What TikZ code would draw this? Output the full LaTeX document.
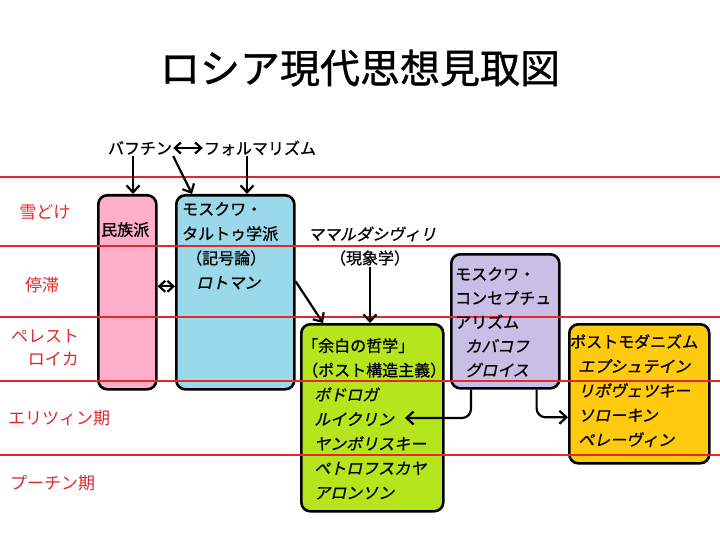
\documentclass[tikz,border=0pt]{standalone}
\usepackage{fontspec}
\setmainfont[FakeBold=0.9]{Noto Sans CJK JP}
\newfontfamily\slfont[FakeSlant=0.22,FakeBold=0.9]{Noto Sans CJK JP}
\newfontfamily\erafont{Noto Sans CJK JP}
\usetikzlibrary{arrows.meta}
\usetikzlibrary{positioning}

\definecolor{eracol}{RGB}{225,40,45}
\definecolor{pinkfill}{RGB}{255,174,201}
\definecolor{bluefill}{RGB}{153,217,234}
\definecolor{greenfill}{RGB}{181,230,29}
\definecolor{purplefill}{RGB}{200,191,231}
\definecolor{orangefill}{RGB}{255,201,14}

\tikzset{
  box/.style={draw, line width=2.6pt, rounded corners=9pt, anchor=north west, inner sep=0pt},
  boxtext/.style={anchor=north west, align=left, inner sep=0pt, font=\fontsize{16}{24.5}\selectfont},
  era/.style={text=eracol, font=\erafont\fontsize{17}{23}\selectfont, inner sep=0pt},
  eraline/.style={eracol, line width=1.1pt},
  arr/.style={-{Straight Barb[length=7pt,width=13pt,line width=2.2pt]}, line width=2.2pt},
  dbl/.style={{Straight Barb[length=6pt,width=11pt,line width=2.2pt]}-{Straight Barb[length=6pt,width=11pt,line width=2.2pt]}, line width=2.2pt}
}

\begin{document}
\begin{tikzpicture}[x=1pt,y=-1pt]
  \fill[white] (0,0) rectangle (720,540);
  \useasboundingbox (0,0) rectangle (720,540);

  % title
  \node[font=\fontsize{40}{44}\selectfont] (title) at (360,68) {ロシア現代思想見取図};

  % boxes
  \node[box, fill=pinkfill, minimum width=58pt, minimum height=194pt] (minzoku) at (97,194) {};
  \node[box, fill=bluefill, minimum width=118pt, minimum height=194pt] (tartu) at (175,194) {};
  \node[box, fill=greenfill, minimum width=142pt, minimum height=187pt] (yohaku) at (300,323) {};
  \node[box, fill=purplefill, minimum width=108pt, minimum height=134pt] (moscon) at (450,253) {};
  \node[box, fill=orangefill, minimum width=140pt, minimum height=139pt] (postmod) at (568,323) {};

  % era lines
  \foreach \y in {177,246,317,381,455}
    \draw[eraline] (0,\y) -- (720,\y);

  % era labels
  \node[era] (e1) at (45,212) {雪どけ};
  \node[era] (e2) at (42,285) {停滞};
  \node[era, align=right] (e3) at (45,348) {ペレスト\\ロイカ};
  \node[era, anchor=west] (e4) at (8,418) {エリツィン期};
  \node[era, anchor=west] (e5) at (10,483) {プーチン期};

  % box texts
  \node[boxtext] (minzokut) at (101,222) {民族派};
  \node[boxtext] (tartut) at (182,202) {モスクワ・\\タルトゥ学派\\\hspace{4pt}（記号論）\\\hspace{14pt}{\slfont ロトマン}};
  \node[boxtext] (yohakut) at (302,338) {「余白の哲学」\\（ポスト構造主義）\\\hspace{12pt}{\slfont ポドロガ}\\\hspace{12pt}{\slfont ルイクリン}\\\hspace{12pt}{\slfont ヤンポリスキー}\\\hspace{12pt}{\slfont ペトロフスカヤ}\\\hspace{12pt}{\slfont アロンソン}};
  \node[boxtext, font=\fontsize{16}{24}\selectfont] (mosconT) at (455,267) {モスクワ・\\コンセプチュ\\アリズム\\\hspace{10pt}{\slfont カバコフ}\\\hspace{10pt}{\slfont グロイス}};
  \node[boxtext] (postmodt) at (570,334) {ポストモダニズム\\\hspace{8pt}{\slfont エプシュテイン}\\\hspace{8pt}{\slfont リポヴェツキー}\\\hspace{8pt}{\slfont ソローキン}\\\hspace{8pt}{\slfont ペレーヴィン}};

  % top sources
  \node[font=\fontsize{16}{20}\selectfont, inner sep=1pt] (bakhtin) at (140,148) {バフチン};
  \node[font=\fontsize{16}{20}\selectfont, inner sep=1pt] (formalism) at (260,148) {フォルマリズム};
  \node[font=\fontsize{16}{20}\selectfont, inner sep=1pt] (mamar) at (372,234) {\slfont ママルダシヴィリ};
  \node[font=\fontsize{16}{20}\selectfont, inner sep=1pt] (genshou) at (370,258) {（現象学）};

  % connectors
  \draw[dbl] (bakhtin) -- (formalism);
  \draw[arr] ([xshift=-7pt]bakhtin.south) -- ([xshift=-7pt]bakhtin.south |- minzoku.north);
  \draw[arr] (bakhtin.south east) -- ([xshift=17pt]tartu.north west);
  \draw[arr] ([xshift=-13pt]formalism.south) -- ([xshift=-13pt]formalism.south |- tartu.north);
  \draw[dbl] ([yshift=6pt]minzoku.east) -- ([yshift=6pt]tartu.east -| tartu.west);
  \draw[arr] ([yshift=11pt]tartu.east) -- ([xshift=23pt]yohaku.north west);
  \draw[arr] (genshou.south) -- (genshou.south |- yohaku.north);
  \coordinate (ruikurin) at (405,418);
  \draw[arr, rounded corners=9pt] ([xshift=21pt]moscon.south west) |- (ruikurin);
  \draw[arr, rounded corners=9pt] ([xshift=-24pt]moscon.south east) |- ([yshift=-23.5pt]postmod.west);
\end{tikzpicture}
\end{document}
